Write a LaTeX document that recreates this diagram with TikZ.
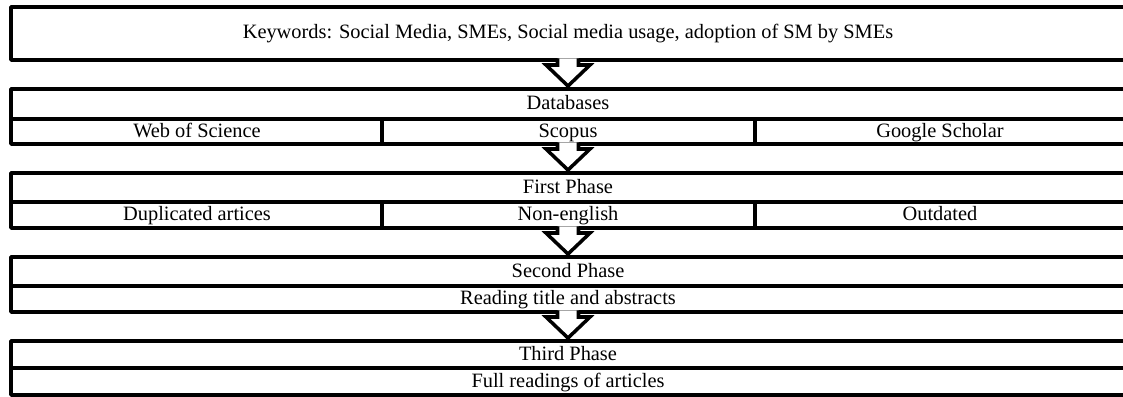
\documentclass[tikz,border=0pt]{standalone}
\usepackage{fontspec}
\setmainfont{Liberation Serif}
\usetikzlibrary{calc}

\tikzset{
  boxline/.style={line width=2pt, line join=round},
  celltext/.style={font=\fontsize{11.6}{13}\selectfont, inner sep=0pt,
    text height=8.6pt, text depth=2.4pt},
  blockarrow/.style={line width=2pt, line join=miter},
}

% hollow arrow pointing down, from #1 (box bottom) to #2 (next box top)
\newcommand{\downblock}[2]{%
  \fill[white] ($(#1)+(-10.5,-1.75)$) -- ($(#1)+(-10.5,5)$) -- ($(#1)+(-22,5)$) -- (#2)
    -- ($(#1)+(22,5)$) -- ($(#1)+(10.5,5)$) -- ($(#1)+(10.5,-1.75)$) -- cycle;
  \draw[blockarrow] ($(#1)+(-10.5,-1.75)$) -- ($(#1)+(-10.5,5)$) -- ($(#1)+(-22,5)$) -- (#2)
    -- ($(#1)+(22,5)$) -- ($(#1)+(10.5,5)$) -- ($(#1)+(10.5,-1.75)$);
}

\begin{document}
\begin{tikzpicture}[x=0.02cm, y=-0.02cm]
    \useasboundingbox (0,0) rectangle (1123,396);

    % keywords
    \draw[boxline] (11,7) rectangle (1126,60);
    \node[celltext] (kw) at (568,33.5) {Keywords: Social Media, SMEs, Social media usage, adoption of SM by SMEs};
    \coordinate (kw-out) at (568,60);

    % databases
    \draw[boxline] (11,89) rectangle (1126,144);
    \draw[boxline] (11,119) -- (1126,119);
    \draw[boxline] (382,119) -- (382,144);
    \draw[boxline] (755,119) -- (755,144);
    \node[celltext] (db) at (568,104.5) {Databases};
    \node[celltext] (wos) at (197,132) {Web of Science};
    \node[celltext] (scopus) at (568,132) {Scopus};
    \node[celltext] (gs) at (940,132) {Google Scholar};
    \coordinate (db-in) at (568,86);
    \coordinate (db-out) at (568,144);

    % first phase
    \draw[boxline] (11,173) rectangle (1126,228);
    \draw[boxline] (11,202) -- (1126,202);
    \draw[boxline] (382,202) -- (382,228);
    \draw[boxline] (755,202) -- (755,228);
    \node[celltext] (p1) at (568,188) {First Phase};
    \node[celltext] (dup) at (197,215.5) {Duplicated artices};
    \node[celltext] (noneng) at (568,215.5) {Non-english};
    \node[celltext] (outd) at (940,215.5) {Outdated};
    \coordinate (p1-in) at (568,170);
    \coordinate (p1-out) at (568,228);

    % second phase
    \draw[boxline] (11,257) rectangle (1126,312);
    \draw[boxline] (11,286) -- (1126,286);
    \node[celltext] (p2) at (568,272) {Second Phase};
    \node[celltext] (read) at (568,299.5) {Reading title and abstracts};
    \coordinate (p2-in) at (568,254);
    \coordinate (p2-out) at (568,312);

    % third phase
    \draw[boxline] (11,341) rectangle (1126,395);
    \draw[boxline] (11,368) -- (1126,368);
    \node[celltext] (p3) at (568,355) {Third Phase};
    \node[celltext] (full) at (568,382) {Full readings of articles};
    \coordinate (p3-in) at (568,338);

    \downblock{kw-out}{db-in}
    \downblock{db-out}{p1-in}
    \downblock{p1-out}{p2-in}
    \downblock{p2-out}{p3-in}
\end{tikzpicture}
\end{document}
